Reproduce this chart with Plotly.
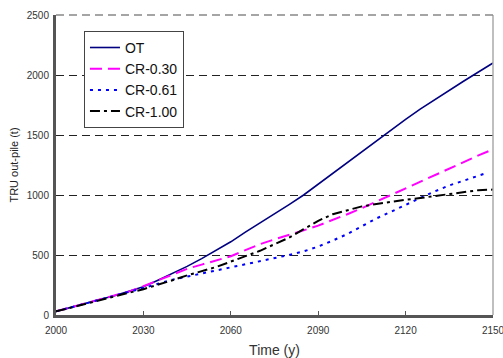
import plotly.graph_objects as go

years = [2000, 2005, 2010, 2015, 2020, 2025, 2030, 2035, 2040, 2045, 2050, 2055, 2060, 2065, 2070, 2075,
         2080, 2085, 2090, 2095, 2100, 2105, 2110, 2115, 2120, 2125, 2130, 2135, 2140, 2145, 2150]

ot = [30, 65, 95, 130, 160, 195, 235, 290, 345, 405, 470, 540, 610, 690, 765, 840,
      920, 1000, 1090, 1180, 1270, 1365, 1455, 1545, 1630, 1715, 1795, 1875, 1950, 2025, 2100]

cr030 = [30, 62, 95, 128, 160, 195, 240, 290, 340, 385, 420, 455, 490, 540, 590, 630,
         665, 705, 745, 790, 840, 890, 945, 1000, 1060, 1115, 1170, 1225, 1280, 1330, 1380]

years_061 = [2000, 2005, 2010, 2015, 2020, 2025, 2030, 2035, 2040, 2045, 2050, 2055, 2060, 2065, 2070, 2075,
             2080, 2085, 2090, 2095, 2100, 2105, 2110, 2115, 2120, 2125, 2130, 2135, 2140, 2145, 2148]
cr061 = [30, 62, 95, 125, 155, 190, 225, 260, 295, 320, 345, 370, 400, 425, 450, 475,
         500, 530, 570, 620, 675, 740, 805, 860, 920, 975, 1030, 1080, 1120, 1160, 1185]

cr100 = [30, 62, 95, 125, 155, 185, 215, 250, 290, 330, 365, 400, 445, 490, 535, 590,
         645, 715, 785, 840, 875, 905, 925, 945, 960, 975, 990, 1005, 1025, 1040, 1045]

x_ticks = [2000, 2030, 2060, 2090, 2120, 2150]
y_ticks = [0, 500, 1000, 1500, 2000, 2500]

fig = go.Figure()
fig.add_trace(go.Scatter(x=years, y=ot, mode="lines", name="OT",
                         line=dict(color="#000080", width=1.6)))
fig.add_trace(go.Scatter(x=years, y=cr030, mode="lines", name="CR-0.30",
                         line=dict(color="#FF00FF", width=2, dash="12px,6px")))
fig.add_trace(go.Scatter(x=years_061, y=cr061, mode="lines", name="CR-0.61",
                         line=dict(color="#0000FF", width=2, dash="3px,5px")))
fig.add_trace(go.Scatter(x=years, y=cr100, mode="lines", name="CR-1.00",
                         line=dict(color="#000000", width=2, dash="10px,4px,3px,4px")))

font_fam = "Liberation Sans, Arial, sans-serif"

fig.update_layout(
    width=503, height=358,
    margin=dict(l=56, r=10, t=15, b=43),
    paper_bgcolor="white", plot_bgcolor="white",
    font=dict(family=font_fam, color="#222"),
    showlegend=True,
    legend=dict(x=0.064, y=0.947, xanchor="left", yanchor="top",
                bgcolor="white", bordercolor="#444", borderwidth=1,
                font=dict(size=14, color="#111", family=font_fam),
                itemwidth=30, tracegroupgap=0),
    xaxis=dict(range=[2000, 2150], tickvals=x_ticks, ticks="inside", ticklen=4,
               tickcolor="#555", tickwidth=1, ticklabelstandoff=4,
               ticklabeloverflow="allow", automargin=False,
               showline=True, linecolor="#555", linewidth=3,
               showgrid=False, zeroline=False,
               tickfont=dict(size=10, color="#333"),
               title=dict(text="Time (y)", font=dict(size=14, color="#333"), standoff=16)),
    yaxis=dict(range=[0, 2500], tickvals=y_ticks, ticks="", automargin=False,
               showline=True, linecolor="#555", linewidth=3,
               showgrid=True, gridcolor="#222", gridwidth=1, griddash="8px,5px",
               zeroline=False, ticklabelstandoff=2,
               tickfont=dict(size=10, color="#333"),
               title=dict(text="TRU out-pile (t)", font=dict(size=11, color="#222"), standoff=6)),
    shapes=[dict(type="line", xref="paper", yref="paper", x0=1, x1=1, y0=0, y1=1,
                 line=dict(color="#aaaaaa", width=1.5)),
            dict(type="line", xref="paper", yref="paper", x0=0, x1=1, y0=1, y1=1,
                 line=dict(color="#888888", width=1.5, dash="8px,5px"))],
)

fig.write_html("out.html")
